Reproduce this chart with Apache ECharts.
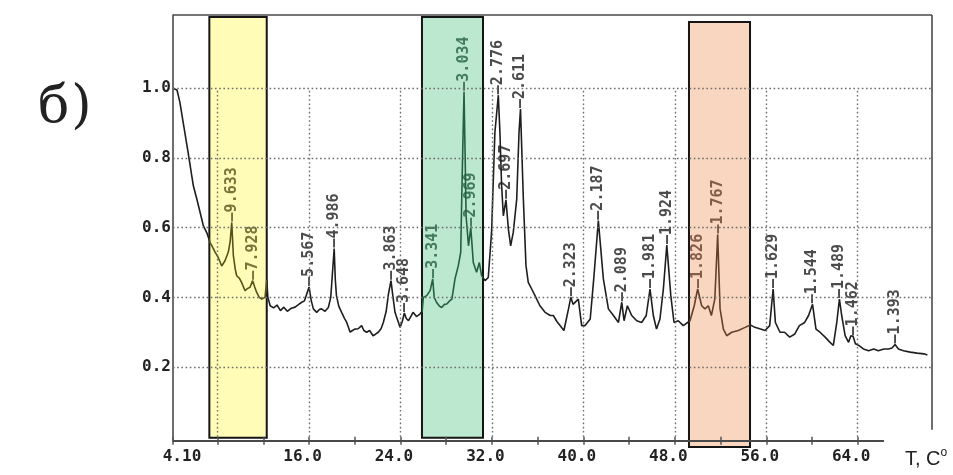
<!DOCTYPE html>
<html>
<head>
<meta charset="utf-8">
<script src="https://cdn.jsdelivr.net/npm/echarts@6/dist/echarts.min.js"></script>
<style>html,body{margin:0;padding:0;background:#fff}#c{width:953px;height:475px}</style>
</head>
<body>
<div id="c"></div>
<script>
// ---- data ----
const twoTheta = [4.10,4.45,4.7,5.0,5.4,5.88,6.2,6.5,6.75,7.05,7.34,7.55,7.78,8.05,8.36,8.65,8.94,9.1,9.24,9.38,9.55,9.67,9.9,10.1,10.4,10.6,10.84,11.07,11.25,11.42,11.65,11.86,12.15,12.3,12.4,12.6,12.9,13.2,13.5,13.8,14.1,14.4,14.78,15.1,15.36,15.6,15.8,16.0,16.2,16.38,16.67,16.9,17.1,17.4,17.69,17.9,18.05,18.2,18.3,18.4,18.6,18.85,19.1,19.3,19.6,19.8,20.0,20.3,20.6,20.8,21.04,21.3,21.6,21.85,22.06,22.3,22.5,22.75,22.95,23.17,23.35,23.52,23.75,23.96,24.15,24.34,24.5,24.7,24.9,25.1,25.4,25.7,25.9,26.0,26.3,26.6,26.82,26.95,27.15,27.4,27.6,27.85,28.05,28.3,28.5,28.77,29.06,29.27,29.4,29.56,29.65,29.74,29.95,30.15,30.37,30.66,30.9,31.1,31.4,31.68,31.97,32.26,32.56,32.7,32.85,33.0,33.23,33.44,33.64,33.87,34.17,34.37,34.5,34.75,34.98,35.18,35.48,35.77,36.2,36.65,37.1,37.37,37.7,37.96,38.3,38.7,38.9,39.1,39.27,39.56,39.85,40.15,40.6,40.9,41.31,41.75,42.19,42.63,43.07,43.36,43.56,43.85,44.23,44.67,45.1,45.5,45.83,46.12,46.4,46.7,47.0,47.3,47.65,47.93,48.3,48.74,48.9,49.33,49.7,50.0,50.35,50.64,50.93,51.2,51.5,51.75,51.96,52.25,52.54,52.98,53.56,54.15,54.6,55.0,55.5,55.9,56.3,56.6,56.8,57.2,57.6,58.05,58.5,58.9,59.36,59.7,60.05,60.35,60.7,61.15,61.58,61.87,62.17,62.4,62.6,62.9,63.2,63.4,63.6,63.8,64.1,64.5,64.96,65.4,65.8,66.3,66.7,67.0,67.27,67.56,68.0,68.6,69.2,69.8,70.1];
const intensity = [1.00,0.995,0.96,0.90,0.82,0.72,0.68,0.64,0.606,0.586,0.558,0.545,0.53,0.515,0.49,0.505,0.53,0.56,0.615,0.52,0.48,0.462,0.455,0.443,0.419,0.425,0.429,0.448,0.43,0.414,0.40,0.395,0.40,0.45,0.40,0.376,0.37,0.378,0.362,0.372,0.36,0.368,0.372,0.38,0.386,0.39,0.41,0.43,0.39,0.367,0.357,0.365,0.367,0.36,0.371,0.40,0.47,0.54,0.45,0.405,0.375,0.357,0.34,0.328,0.30,0.305,0.309,0.31,0.319,0.305,0.30,0.305,0.29,0.295,0.30,0.31,0.328,0.36,0.41,0.448,0.40,0.357,0.335,0.314,0.33,0.355,0.34,0.333,0.345,0.357,0.345,0.352,0.36,0.40,0.405,0.42,0.453,0.40,0.386,0.375,0.371,0.38,0.381,0.39,0.395,0.453,0.491,0.529,0.75,0.99,0.82,0.634,0.548,0.60,0.50,0.472,0.50,0.462,0.448,0.457,0.587,0.873,0.98,0.873,0.72,0.634,0.68,0.596,0.548,0.587,0.682,0.873,0.94,0.682,0.491,0.443,0.424,0.405,0.376,0.357,0.348,0.348,0.33,0.319,0.305,0.367,0.40,0.38,0.376,0.395,0.319,0.319,0.338,0.45,0.62,0.453,0.367,0.348,0.328,0.386,0.333,0.376,0.348,0.333,0.328,0.348,0.424,0.348,0.309,0.338,0.424,0.55,0.405,0.328,0.333,0.319,0.324,0.333,0.376,0.424,0.376,0.367,0.376,0.348,0.395,0.58,0.367,0.309,0.29,0.30,0.305,0.314,0.321,0.314,0.309,0.305,0.319,0.424,0.328,0.30,0.30,0.286,0.295,0.319,0.328,0.348,0.38,0.309,0.30,0.286,0.271,0.262,0.328,0.395,0.348,0.29,0.271,0.29,0.288,0.267,0.262,0.252,0.247,0.252,0.247,0.252,0.252,0.255,0.265,0.252,0.247,0.243,0.24,0.238,0.235];

// peak annotations: position and d-spacing label
const peakX = [9.24,11.07,16.0,18.2,23.17,24.34,26.82,29.56,30.15,32.56,33.23,34.5,38.9,41.31,43.36,45.83,47.3,50.0,51.75,56.6,60.05,62.4,63.6,67.27];
const peakY = [0.615,0.448,0.43,0.54,0.448,0.355,0.453,0.99,0.60,0.98,0.68,0.94,0.40,0.62,0.386,0.424,0.55,0.424,0.58,0.424,0.38,0.395,0.288,0.265];
const peakD = ['9.633','7.928','5.567','4.986','3.863','3.648','3.341','3.034','2.969','2.776','2.697','2.611','2.323','2.187','2.089','1.981','1.924','1.826','1.767','1.629','1.544','1.489','1.462','1.393'];

// highlighted ranges
const boxX0 = [7.28, 25.88, 49.24];
const boxX1 = [12.30, 31.22, 54.58];
const boxTop = [1.204, 1.204, 1.19];
const boxBottom = [-0.003, -0.003, -0.029];

// axis ticks / labels / grid
const xLabelValues = [4.1, 16, 24, 32, 40, 48, 56, 64];
const xLabelTexts = ['4.10', '16.0', '24.0', '32.0', '40.0', '48.0', '56.0', '64.0'];
const xTickValues = [4.1, 8, 12, 16, 20, 24, 28, 32, 36, 40, 44, 48, 52, 56, 60, 64];
const yLabelValues = [0.2, 0.4, 0.6, 0.8, 1.0];
const gridXs = [8, 16, 24, 32, 40, 48, 56, 64];
const gridYs = [0.2, 0.4, 0.6, 0.8, 1.0];
const X_MIN = 4.1, X_MAX = 70.5, Y_MIN = -0.012, Y_MAX = 1.21, X_AXIS_END = 66.3, GRID_V_TOP = 1.0;

// ---- styles ----
const boxFill = ['#fffcb8', '#bce8cf', '#f8d6bf'];
const boxInk = ['#55531a', '#24603f', '#653f2b'];
const baseInk = '#1e1e1e';
const gridColor = '#6e6e6e';
const frameColor = '#4a4a4a';

function inkAt(x) {
  for (let i = 0; i < boxX0.length; i++) if (x >= boxX0[i] && x < boxX1[i]) return boxInk[i];
  return baseInk;
}

const lineData = twoTheta.map((x, i) => [x, intensity[i]]);
const peakData = peakX.map((x, i) => ({ value: [x, peakY[i]], name: peakD[i], label: { color: inkAt(x) } }));
const boxData = boxX0.map((x, i) => [x, boxX1[i], boxTop[i], boxBottom[i]]);

const pieces = [];
let prev = null;
boxX0.forEach((x0, i) => {
  pieces.push(prev === null ? { lt: x0, color: baseInk } : { gte: prev, lt: x0, color: baseInk });
  pieces.push({ gte: x0, lt: boxX1[i], color: boxInk[i] });
  prev = boxX1[i];
});
pieces.push({ gte: prev, color: baseInk });

const gridLineStyle = { color: gridColor, width: 1.4, type: [1.6, 2.6] };
const frameStyle = { color: frameColor, width: 1.6, type: 'solid' };
const markLines = [];
gridXs.forEach(x => markLines.push([{ coord: [x, 0], lineStyle: gridLineStyle }, { coord: [x, GRID_V_TOP] }]));
gridYs.forEach(y => markLines.push([{ coord: [X_MIN, y], lineStyle: gridLineStyle }, { coord: [X_MAX, y] }]));
markLines.push([{ coord: [X_MIN, Y_MAX], lineStyle: frameStyle }, { coord: [X_MAX, Y_MAX] }]);
markLines.push([{ coord: [X_MAX, Y_MAX], lineStyle: frameStyle }, { coord: [X_MAX, 0.02] }]);
markLines.push([{ coord: [X_MIN, Y_MIN], lineStyle: { color: frameColor, width: 2, type: 'solid' } }, { coord: [X_AXIS_END, Y_MIN] }]);

const chart = echarts.init(document.getElementById('c'), null, { renderer: 'canvas' });
chart.setOption({
  animation: false,
  backgroundColor: '#fff',
  grid: { left: 173, right: 21, top: 15, bottom: 34, show: false },
  xAxis: {
    type: 'value', min: X_MIN, max: X_MAX,
    axisLine: { show: false },
    splitLine: { show: false },
    axisTick: { show: true, length: 8, inside: false, customValues: xTickValues, lineStyle: { color: '#555', width: 1.5 } },
    axisLabel: {
      customValues: xLabelValues,
      margin: 8,
      fontFamily: 'DejaVu Sans Mono', fontWeight: 'bold', fontSize: 16, color: '#222',
      formatter: v => {
        const i = xLabelValues.findIndex(t => Math.abs(t - v) < 1e-6);
        const s = i >= 0 ? xLabelTexts[i] : '';
        return i === 0 ? '{f|' + s + '}' : '{n|' + s + '}';
      },
      rich: {
        n: { fontFamily: 'DejaVu Sans Mono', fontWeight: 'bold', fontSize: 16, color: '#222', padding: [0, 13, 0, 0] },
        f: { fontFamily: 'DejaVu Sans Mono', fontWeight: 'bold', fontSize: 16, color: '#222', padding: [0, 0, 0, 18] }
      }
    }
  },
  yAxis: {
    type: 'value', min: Y_MIN, max: Y_MAX,
    axisLine: { show: true, lineStyle: { color: frameColor, width: 1.6 } },
    axisTick: { show: false },
    splitLine: { show: false },
    axisLabel: {
      customValues: yLabelValues, margin: 2,
      fontFamily: 'DejaVu Sans Mono', fontWeight: 'bold', fontSize: 16, color: '#222',
      formatter: v => v.toFixed(1)
    }
  },
  visualMap: { show: false, type: 'piecewise', dimension: 0, seriesIndex: 2, pieces: pieces },
  series: [
    {
      type: 'custom', name: 'boxes', z: 0, clip: false, silent: true,
      encode: { x: [0, 1], y: [2, 3] },
      data: boxData,
      renderItem: (params, api) => {
        const p0 = api.coord([api.value(0), api.value(2)]);
        const p1 = api.coord([api.value(1), api.value(3)]);
        return {
          type: 'rect',
          shape: { x: p0[0], y: p0[1], width: p1[0] - p0[0], height: p1[1] - p0[1] },
          style: { fill: boxFill[params.dataIndex], stroke: '#151515', lineWidth: 2 }
        };
      }
    },
    {
      type: 'line', name: 'grid', z: 1, silent: true, data: [],
      markLine: { silent: true, symbol: ['none', 'none'], label: { show: false }, animation: false, data: markLines }
    },
    {
      type: 'line', name: 'pattern', z: 3, data: lineData, showSymbol: false, symbol: 'none',
      lineStyle: { width: 1.6 }, silent: true
    },
    {
      type: 'scatter', name: 'peaks', z: 4, data: peakData, symbolSize: 2, itemStyle: { color: 'rgba(0,0,0,0)' }, silent: true,
      labelLayout: { hideOverlap: false },
      label: {
        show: true, position: 'top', distance: 0, rotate: 90, align: 'left', verticalAlign: 'middle',
        fontFamily: 'DejaVu Sans Mono', fontSize: 15, fontWeight: 'bold', color: baseInk,
        formatter: p => '—' + p.name
      }
    }
  ],
  graphic: [
    { type: 'text', left: 38, top: 82, style: {
        text: '{a|б}{b|)}',
        rich: {
          a: { fontFamily: 'DejaVu Serif', fontSize: 52, fill: '#222', padding: [0, 2, 0, 0] },
          b: { fontFamily: 'DejaVu Serif', fontSize: 52, fill: '#222' }
        } } },
    { type: 'text', left: 905, top: 447, style: {
        text: '{t|T, C}{s|o}',
        rich: {
          t: { fontFamily: 'Liberation Sans', fontSize: 20, fill: '#222', lineHeight: 24 },
          s: { fontFamily: 'Liberation Sans', fontSize: 12, fill: '#222', verticalAlign: 'top', lineHeight: 24, padding: [0, 0, 12, 0] }
        } } }
  ]
});
</script>
</body>
</html>
